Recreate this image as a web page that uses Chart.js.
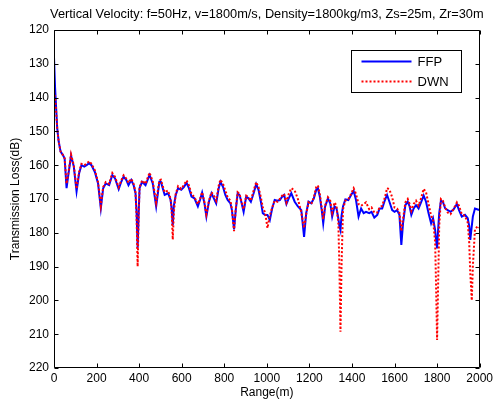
<!DOCTYPE html>
<html><head><meta charset="utf-8">
<script src="https://cdn.jsdelivr.net/npm/chart.js@4/dist/chart.umd.min.js"></script>
<style>html,body{margin:0;padding:0;background:#fff}canvas{display:block}</style>
</head><body>
<canvas id="c" width="496" height="403"></canvas>
<script>
const titleText = 'Vertical Velocity: f=50Hz, v=1800m/s, Density=1800kg/m3, Zs=25m, Zr=30m';
const seriesNames = ['FFP', 'DWN'];
const xTitle = 'Range(m)';
const yTitle = 'Transmission Loss(dB)';
const xTicks = [0, 200, 400, 600, 800, 1000, 1200, 1400, 1600, 1800, 2000];
const yTicks = [120, 130, 140, 150, 160, 170, 180, 190, 200, 210, 220];

const ranges = [0,5,10,15,22,31,42,50,59,67,80,93,106,118,129,142,153,165,176,192,207,220,231,243,259,274,287,304,316,327,340,350,363,374,383,388,393,398,402,414,430,449,464,480,495,502,520,536,548,553,558,563,572,583,598,611,623,634,646,660,676,686,696,707,716,728,740,751,762,774,782,794,805,816,829,836,846,854,863,872,880,891,903,914,925,938,950,961,972,981,992,1003,1014,1025,1037,1050,1061,1072,1081,1092,1103,1115,1131,1146,1162,1175,1185,1196,1209,1221,1232,1240,1249,1259,1265,1274,1287,1298,1307,1318,1327,1336,1341,1346,1351,1358,1369,1383,1396,1408,1419,1431,1443,1455,1466,1481,1492,1505,1519,1530,1542,1555,1565,1576,1589,1600,1612,1623,1632,1640,1651,1662,1671,1679,1690,1701,1713,1726,1737,1748,1760,1772,1781,1791,1795,1800,1805,1810,1818,1827,1838,1850,1863,1877,1893,1903,1916,1931,1944,1951,1956,1963,1968,1978,1991,2000];

const ffpLoss = [128,137,143,149,153,156,157,158,166.8,163,157.2,160.4,167.8,162.4,160,160.4,160,159.4,160,162,165.4,172.8,166.8,165.4,165.9,162.9,163.9,167.1,164.9,163.4,164.4,165.9,164.4,165.9,168.3,174,184.5,174,166.8,164.9,165.9,162.9,165.4,172.2,164.9,164.9,168.8,168.3,170.3,173,177.8,172,168.8,166.8,167.3,166.4,165.2,166.8,169.3,169.8,172.2,170.3,168.1,171.3,175.2,170.8,168.3,169.8,171.3,166.8,164.9,166.4,168.8,170.3,171.3,173.3,179,173.3,168.3,168.8,170.8,173.8,169.3,169.8,170.8,168.3,165.6,167.3,170.8,174.2,174.7,174.7,176.2,172.8,170.3,170.5,170.3,169.3,168.8,171.5,169.8,168.3,170.8,172.2,173.3,181.2,174.2,170.8,171.3,169.8,167.3,166.8,169.3,173.8,177.2,172.2,169.8,171.3,175.2,172.2,172.7,175.7,178,179.2,175,172.2,170.1,170.3,168.8,167.6,170.3,175.2,172.8,174.2,173.8,174.2,173.8,175.5,174.7,172.8,172.8,170.3,168.8,170.8,173.3,173.8,173.3,174.7,183.6,177.2,171.8,170.8,172.2,174.7,172.8,171.8,172.8,170.8,169,170.8,174.2,177.2,175.7,179.2,182,184.6,179,174.2,170.5,170.8,172.8,173.3,173.8,173.1,171.5,173.3,175.2,174.7,175.7,178,182.1,178,175.2,172.8,173.1,173.3];

const dwnLoss = [138,140,144,149,153,156,157,158,165.5,162.5,156.8,160,167,162,159.6,160,159.6,158.8,159.6,161.5,165,172,166.5,165,165.5,162.3,163.5,166.5,164.5,163,164,165.2,164,165.5,168,175,190,175,166.5,164.5,165.5,162.2,164.8,171,164.5,164.3,168,167.5,170,174,182,174,168.5,166.2,167,165.8,164.5,166,168.5,169.5,171.5,170,168,171,174.5,170.5,168,169,170.5,166,164.3,165.5,167.5,169.5,170.5,173,179.5,173,168,168.5,170.5,173,169,169.5,170.5,167.5,165,166.5,169.5,172.5,174,178.6,175,172.5,170.5,170.8,170,169,168.5,171,168.5,166.8,167.5,170,174,178.6,174.5,171,171.5,169.5,166.5,166,168.5,173,176,172,169.5,170.5,174,171,172,177,190,209.3,190,173,170.5,170,168.5,166.8,168.5,171.5,172,171.5,171,173,172.5,174,174,172.5,172,169.5,166.8,167.2,169.5,172.5,172.8,174,179.5,176,171,170,171.5,173.5,171.5,170.5,172,169.5,167,168,171.5,175,176,183,195,211.7,195,178,170,170.5,172.5,174,174.5,173,171,172,174.5,175,177,183,192,200,190,179,178,178.5];

const ffpPoints = ranges.map((r, i) => ({x: r, y: ffpLoss[i]}));
const dwnPoints = ranges.map((r, i) => ({x: r, y: dwnLoss[i]}));

const FONT = '"Liberation Sans", Arial, Helvetica, sans-serif';
Chart.defaults.font.family = FONT;
Chart.defaults.font.size = 12;
Chart.defaults.color = '#000';

const frame = {
  id: 'frame',
  afterDraw(chart) {
    const {ctx, chartArea: a, scales} = chart;
    ctx.save();
    ctx.strokeStyle = '#000';
    ctx.lineWidth = 1;
    ctx.beginPath();
    const L = Math.round(a.left) + 0.5, R = Math.round(a.right) - 0.5;
    const T = Math.round(a.top) + 0.5, B = Math.round(a.bottom) - 0.5;
    ctx.rect(L, T, R - L, B - T);
    const tl = 4;
    xTicks.forEach(v => {
      const x = Math.round(scales.x.getPixelForValue(v)) + 0.5;
      ctx.moveTo(x, B); ctx.lineTo(x, B - tl);
      ctx.moveTo(x, T); ctx.lineTo(x, T + tl);
    });
    yTicks.forEach(v => {
      const y = Math.round(scales.y.getPixelForValue(v)) + 0.5;
      ctx.moveTo(L, y); ctx.lineTo(L + tl, y);
      ctx.moveTo(R, y); ctx.lineTo(R - tl, y);
    });
    ctx.stroke();

    // title
    ctx.fillStyle = '#000';
    ctx.font = '12.8px ' + FONT;
    ctx.textAlign = 'center';
    ctx.textBaseline = 'middle';
    ctx.fillText(titleText, (a.left + a.right) / 2, 14);

    // legend
    const bx = 351.5, by = 50.5, bw = 110, bh = 42;
    ctx.fillStyle = '#fff';
    ctx.fillRect(bx, by, bw, bh);
    ctx.strokeStyle = '#000';
    ctx.strokeRect(bx, by, bw, bh);
    chart.data.datasets.forEach((ds, i) => {
      const y = by + 11 + i * 20;
      ctx.save();
      ctx.strokeStyle = ds.borderColor;
      ctx.lineWidth = ds.borderWidth;
      ctx.setLineDash(ds.borderDash || []);
      ctx.beginPath();
      ctx.moveTo(bx + 10, y); ctx.lineTo(bx + 60, y);
      ctx.stroke();
      ctx.restore();
      ctx.fillStyle = '#000';
      ctx.textAlign = 'left';
      ctx.textBaseline = 'middle';
      ctx.font = '13px ' + FONT;
      ctx.fillText(ds.label, bx + 66, y + 1);
    });
    ctx.restore();
  }
};

new Chart(document.getElementById('c'), {
  type: 'line',
  data: {
    datasets: [
      {label: seriesNames[0], data: ffpPoints, borderColor: '#0000ff', borderWidth: 2, pointRadius: 0, tension: 0, fill: false, order: 1},
      {label: seriesNames[1], data: dwnPoints, borderColor: '#ff0000', borderWidth: 2, borderDash: [2, 2], pointRadius: 0, tension: 0, fill: false, order: 0}
    ]
  },
  options: {
    responsive: false,
    animation: false,
    layout: {padding: {top: 30, right: 14, left: 0, bottom: 0}},
    plugins: {legend: {display: false}, title: {display: false}, tooltip: {enabled: false}},
    scales: {
      x: {
        type: 'linear', min: 0, max: 2000,
        afterBuildTicks: s => { s.ticks = xTicks.map(v => ({value: v})); },
        afterFit: s => { s.height = 35; },
        grid: {display: false, drawTicks: false},
        border: {display: false},
        ticks: {padding: 3, maxRotation: 0, autoSkip: false, font: {size: 12}, callback: v => String(v)},
        title: {display: true, text: xTitle, font: {size: 12}, padding: {top: 0, bottom: 3}}
      },
      y: {
        type: 'linear', min: 120, max: 220, reverse: true,
        afterBuildTicks: s => { s.ticks = yTicks.map(v => ({value: v})); },
        afterFit: s => { s.width = 54; },
        grid: {display: false, drawTicks: false},
        border: {display: false},
        ticks: {padding: 5, autoSkip: false, font: {size: 12}, callback: v => String(v)},
        title: {display: true, text: yTitle, font: {size: 12}, padding: {top: 8, bottom: 0}}
      }
    }
  },
  plugins: [frame]
});
</script>
</body></html>
